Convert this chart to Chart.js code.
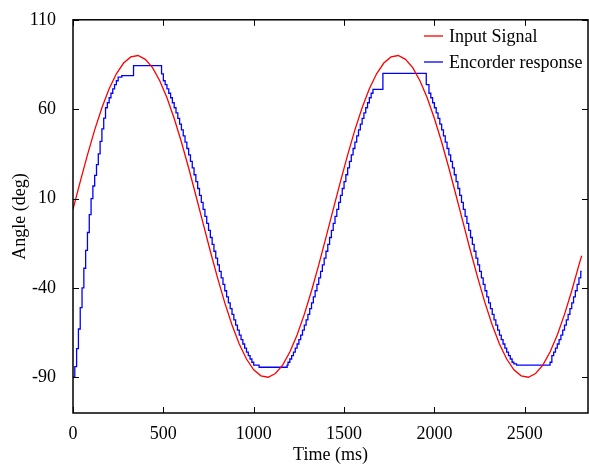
<!DOCTYPE html>
<html>
<head>
<meta charset="utf-8">
<script src="https://cdn.jsdelivr.net/npm/chart.js@4.4.1/dist/chart.umd.min.js"></script>
<style>
  html, body { margin: 0; padding: 0; background: #fff; }
  #wrap { width: 589px; height: 468px; }
</style>
</head>
<body>
<div id="wrap"><canvas id="angleChart" width="589" height="468"></canvas></div>
<script>
// Input signal, sampled (ms / deg)
const redTime = [0, 40, 80, 120, 160, 200, 240, 280, 320, 360, 400, 440, 480, 520, 560, 600, 640, 680, 720, 760,
  800, 840, 880, 920, 960, 1000, 1040, 1080, 1120, 1160, 1200, 1240, 1280, 1320, 1360, 1400, 1440, 1480, 1520, 1560,
  1600, 1640, 1680, 1720, 1760, 1800, 1840, 1880, 1920, 1960, 2000, 2040, 2080, 2120, 2160, 2200, 2240, 2280, 2320,
  2360, 2400, 2440, 2480, 2520, 2560, 2600, 2640, 2680, 2720, 2760, 2800, 2815];
const redAngle = [3.9, 19.5, 34.4, 48.4, 60.8, 71.4, 79.8, 85.8, 89.2, 90, 87.9, 83.2, 75.9, 66.4, 54.8, 41.6, 27.1, 11.7, -3.9, -19.5,
  -34.4, -48.4, -60.8, -71.4, -79.8, -85.8, -89.2, -90, -87.9, -83.2, -75.9, -66.4, -54.8, -41.6, -27.1, -11.7, 3.9, 19.5, 34.4, 48.4,
  60.8, 71.4, 79.8, 85.8, 89.2, 90, 87.9, 83.2, 75.9, 66.4, 54.8, 41.6, 27.1, 11.7, -3.9, -19.5, -34.4, -48.4, -60.8,
  -71.4, -79.8, -85.8, -89.2, -90, -87.9, -83.2, -75.9, -66.4, -54.8, -41.6, -27.1, -22];

// Encoder response: each point is the new reading from that time on
const blueTime = [0, 10, 20, 30, 40, 50, 60, 70, 80, 90, 100, 110, 120, 130, 140, 150, 160, 170, 180, 190, 200, 210, 220, 230, 240, 250,
  270, 335,
  490, 500, 510, 520, 530, 540, 550, 560, 570, 580, 590, 600, 610, 620, 630, 640, 650, 660, 670, 680, 690, 700, 710, 720, 730,
  740, 750, 760, 770, 780, 790, 800, 810, 820, 830, 840, 850, 860, 870, 880, 890, 900, 910, 920, 930, 940, 950, 960, 970, 980,
  990, 1000, 1030,
  1185, 1190, 1200, 1210, 1220, 1230, 1240, 1250, 1260, 1270, 1280, 1290, 1300, 1310, 1320, 1330, 1340, 1350, 1360, 1370,
  1380, 1390, 1400, 1410, 1420, 1430, 1440, 1450, 1460, 1470, 1480, 1490, 1500, 1510, 1520, 1530, 1540, 1550, 1560, 1570,
  1580, 1590, 1600, 1610, 1620, 1630, 1640, 1650, 1660, 1715,
  1955, 1970, 1980, 1990, 2000, 2010, 2020, 2030, 2040, 2050, 2060, 2070, 2080, 2090, 2100, 2110, 2120, 2130, 2140, 2150,
  2160, 2170, 2180, 2190, 2200, 2210, 2220, 2230, 2240, 2250, 2260, 2270, 2280, 2290, 2300, 2310, 2320, 2330, 2340, 2350,
  2360, 2370, 2380, 2390, 2400, 2410, 2420, 2430, 2440, 2455,
  2640, 2650, 2660, 2670, 2680, 2690, 2700, 2710, 2720, 2730, 2740, 2750, 2760, 2770, 2780, 2790, 2800, 2810, 2815];
const blueAngle = [-90, -84, -74, -63, -51, -40, -29, -19, -9, 1, 10, 17, 23, 29, 35, 42, 49, 55, 60.8, 63.6, 66.4, 68.9, 71.4, 73.7, 75.9, 77.9,
  78.8, 84.4,
  79.8, 75.9, 73.7, 71.4, 68.9, 66.4, 63.6, 60.8, 57.9, 54.8, 51.6, 48.4, 45, 41.6, 38, 34.4, 30.8, 27.1, 23.3, 19.5, 15.6, 11.8, 7.8, 3.9, 0,
  -3.9, -7.8, -11.8, -15.6, -19.5, -23.3, -27.1, -30.8, -34.4, -38, -41.6, -45, -48.4, -51.6, -54.8, -57.9, -60.8, -63.6, -66.4, -68.9, -71.4, -73.7, -75.9, -77.9,
  -79.8, -81.6, -83.2, -84.4,
  -83.2, -81.6, -79.8, -77.9, -75.9, -73.7, -71.4, -68.9, -66.4, -63.6, -60.8, -57.9, -54.8, -51.6, -48.4, -45, -41.6, -38, -34.4, -30.8,
  -27.1, -23.3, -19.5, -15.6, -11.8, -7.8, -3.9, 0, 3.9, 7.8, 11.8, 15.6, 19.5, 23.3, 27.1, 30.8, 34.4, 38, 41.6, 45,
  48.4, 51.6, 54.8, 57.9, 60.8, 63.6, 66.4, 68.9, 71.1, 80,
  73.7, 68.9, 66.4, 63.6, 60.8, 57.9, 54.8, 51.6, 48.4, 45, 41.6, 38, 34.4, 30.8, 27.1, 23.3, 19.5, 15.6, 11.8, 7.8,
  3.9, 0, -3.9, -7.8, -11.8, -15.6, -19.5, -23.3, -27.1, -30.8, -34.4, -38, -41.6, -45, -48.4, -51.6, -54.8, -57.9, -60.8, -63.6,
  -66.4, -68.9, -71.4, -73.7, -75.9, -77.9, -79.8, -81.6, -82.5, -83.2,
  -81.6, -77.9, -75.9, -73.7, -71.4, -68.9, -66.4, -63.6, -60.8, -57.9, -54.8, -51.6, -48.4, -45, -41.6, -38, -34.4, -30.8, -30.8];

const xTicks = [0, 500, 1000, 1500, 2000, 2500];
const yTicks = [-90, -40, 10, 60, 110];

const FONT = 'Liberation Serif';

// box round the plot, inward ticks, and the legend inside the top right corner
const boxPlugin = {
  id: 'boxPlugin',
  afterDraw(chart) {
    const { ctx, chartArea: a, scales: { x, y } } = chart;
    ctx.save();
    ctx.strokeStyle = '#000';
    ctx.lineWidth = 1.5;
    ctx.strokeRect(a.left, a.top, a.right - a.left, a.bottom - a.top);
    ctx.lineWidth = 1;
    ctx.beginPath();
    x.ticks.forEach((t, i) => {
      const px = Math.round(x.getPixelForTick(i)) + 0.5;
      ctx.moveTo(px, a.bottom); ctx.lineTo(px, a.bottom - 6);
      ctx.moveTo(px, a.top); ctx.lineTo(px, a.top + 6);
    });
    y.ticks.forEach((t, i) => {
      const py = Math.round(y.getPixelForTick(i)) + 0.5;
      ctx.moveTo(a.left, py); ctx.lineTo(a.left + 6, py);
      ctx.moveTo(a.right, py); ctx.lineTo(a.right - 6, py);
    });
    ctx.stroke();

    // legend
    ctx.font = '18px "' + FONT + '"';
    ctx.textBaseline = 'middle';
    ctx.textAlign = 'left';
    chart.data.datasets.forEach((ds, i) => {
      const ly = 36 + i * 26;
      ctx.strokeStyle = ds.borderColor;
      ctx.lineWidth = 1.3;
      ctx.beginPath();
      ctx.moveTo(424, ly); ctx.lineTo(443, ly);
      ctx.stroke();
      ctx.fillStyle = '#000';
      ctx.fillText(ds.label, 449, ly + 1);
    });
    ctx.restore();
  }
};

new Chart(document.getElementById('angleChart'), {
  type: 'line',
  data: {
    datasets: [
      {
        label: 'Input Signal',
        data: redTime.map((t, i) => ({ x: t, y: redAngle[i] })),
        borderColor: '#ff0000',
        borderWidth: 1.3,
        pointRadius: 0,
        tension: 0
      },
      {
        label: 'Encorder response',
        data: blueTime.map((t, i) => ({ x: t, y: blueAngle[i] })),
        borderColor: '#0000ff',
        borderWidth: 1.3,
        pointRadius: 0,
        stepped: true
      }
    ]
  },
  plugins: [boxPlugin],
  options: {
    responsive: false,
    animation: false,
    layout: { padding: { top: 13, right: 1, left: 0, bottom: 0 } },
    plugins: {
      legend: { display: false },
      tooltip: { enabled: false }
    },
    scales: {
      x: {
        type: 'linear',
        min: 0,
        max: 2850,
        afterBuildTicks: (scale) => { scale.ticks = xTicks.map(v => ({ value: v })); },
        afterFit: (scale) => { scale.height = 55; },
        grid: { display: false },
        border: { display: false },
        ticks: { color: '#000', font: { family: FONT, size: 18 }, padding: 2, maxRotation: 0, callback: (v) => String(v) },
        title: { display: true, text: 'Time (ms)', color: '#000', font: { family: FONT, size: 18 }, padding: { top: 0, bottom: 2 } }
      },
      y: {
        type: 'linear',
        min: -110,
        max: 110,
        afterBuildTicks: (scale) => { scale.ticks = yTicks.map(v => ({ value: v })); },
        afterFit: (scale) => { scale.width = 73; },
        grid: { display: false },
        border: { display: false },
        ticks: { color: '#000', font: { family: FONT, size: 18 }, padding: 9 },
        title: { display: true, text: 'Angle (deg)', color: '#000', font: { family: FONT, size: 18 }, padding: { top: 9, bottom: 0 } }
      }
    }
  }
});
</script>
</body>
</html>
